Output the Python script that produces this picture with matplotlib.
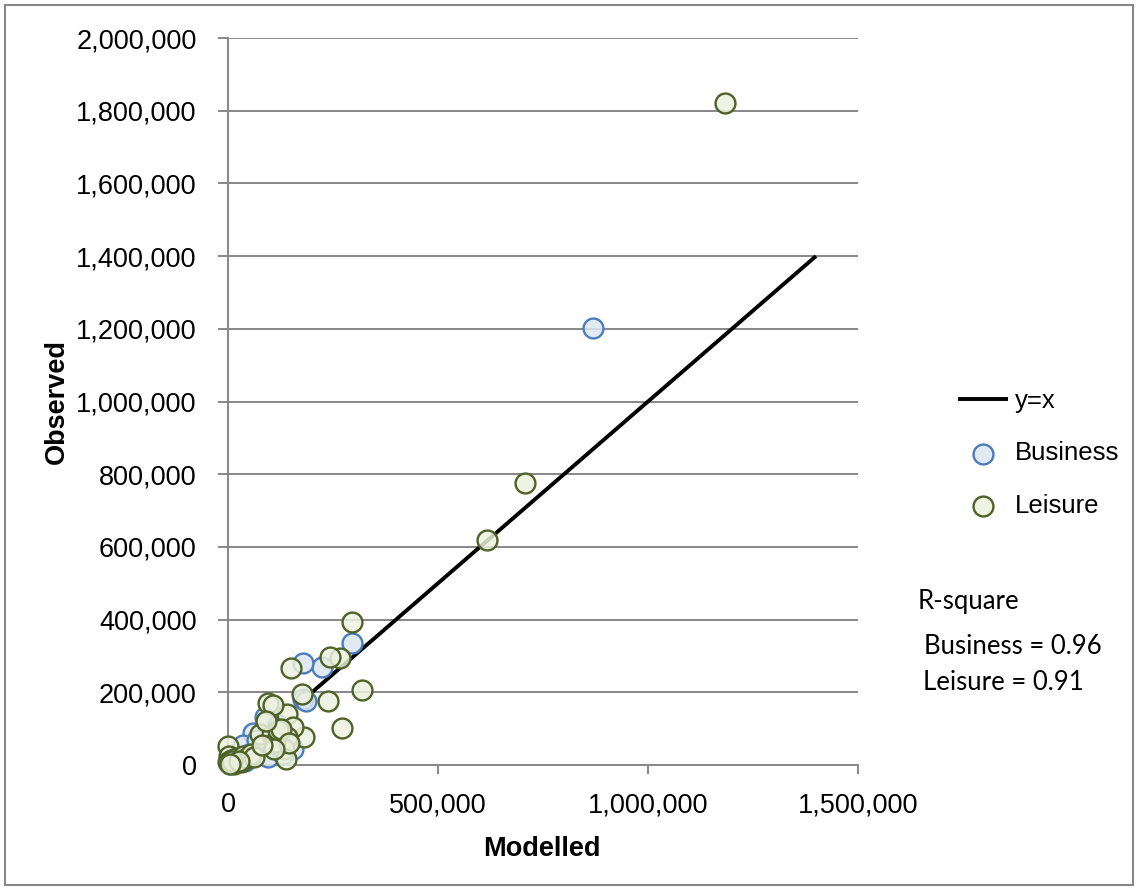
import numpy as np
import matplotlib
matplotlib.use("Agg")
import matplotlib.pyplot as plt
from matplotlib.ticker import FuncFormatter
from matplotlib.patches import Rectangle

# data (thousands, scaled below)
business_x = [869, 295, 224, 179, 178, 185, 88, 60, 95, 36, 155, 10, 20, 40, 120, 100, 130, 5, 50, 70]
business_y = [1203, 335, 270, 280, 182, 175, 132, 88, 22, 55, 45, 5, 15, 10, 110, 60, 30, 2, 30, 70]

leisure_x = [1183, 707, 617, 295, 267, 243, 150, 319, 238, 271, 176, 182, 140, 95, 107, 155, 76, 105,
             140, 133, 138, 112, 0, 3, 0, 8, 15, 20, 30, 35, 45, 55, 62, 10, 25, 5, 120, 125, 145, 90,
             110, 80]
leisure_y = [1820, 775, 618, 393, 294, 297, 267, 206, 176, 102, 195, 77, 140, 170, 165, 105, 85, 83,
             77, 44, 17, 63, 52, 25, 8, 15, 3, 20, 8, 25, 18, 30, 22, 10, 12, 3, 95, 100, 60, 120,
             45, 55]

line_x = [200, 1400]
line_y = [200, 1400]

r_square = {"Business": 0.96, "Leisure": 0.91}

bx = np.array(business_x) * 1000
by = np.array(business_y) * 1000
lx = np.array(leisure_x) * 1000
ly = np.array(leisure_y) * 1000

plt.rcParams['font.family'] = ['Liberation Sans', 'DejaVu Sans']

grey = '#878787'

fig = plt.figure(figsize=(11.38, 8.9), dpi=100)
ax = fig.add_axes([228 / 1138, 1 - 765 / 890, 630 / 1138, 727 / 890])

ax.plot(np.array(line_x) * 1000, np.array(line_y) * 1000, color='black', lw=2.8, zorder=2,
        solid_capstyle='butt', label='y=x')
ax.scatter(bx, by, s=205, facecolor=(0.863, 0.902, 0.949, 0.85), edgecolor='#4a7ebb',
           linewidth=1.7, zorder=3, clip_on=False, label='Business')
ax.scatter(lx, ly, s=205, facecolor=(0.922, 0.945, 0.871, 0.85), edgecolor='#4f6228',
           linewidth=1.7, zorder=4, clip_on=False, label='Leisure')

ax.set_xlim(0, 1500000)
ax.set_ylim(0, 2000000)
ax.set_xticks([0, 500000, 1000000, 1500000])
ax.set_yticks(np.arange(0, 2000001, 200000))
fmt = FuncFormatter(lambda v, p: f'{int(v):,}')
ax.xaxis.set_major_formatter(fmt)
ax.yaxis.set_major_formatter(fmt)

ax.grid(axis='y', color=grey, lw=1.4, zorder=0)
ax.set_axisbelow(True)
for s in ['top', 'right']:
    ax.spines[s].set_visible(False)
for s in ['left', 'bottom']:
    ax.spines[s].set_color(grey)
    ax.spines[s].set_linewidth(1.4)

ax.tick_params(axis='y', length=7.5, width=1.4, color=grey, pad=15, labelsize=19.5)
ax.tick_params(axis='x', length=6.5, width=1.4, color=grey, pad=13, labelsize=19.5)

ax.set_xlabel('Modelled', fontsize=19.5, fontweight='bold', va='center')
ax.xaxis.set_label_coords(0.498, -0.1155)
ax.set_ylabel('Observed', fontsize=19.5, fontweight='bold', va='center')
ax.yaxis.set_label_coords(-0.271, 0.5)

ax.legend(loc='upper left', bbox_to_anchor=(958 / 1138, 1 - 389 / 890),
          bbox_transform=fig.transFigure, frameon=False, fontsize=18.5,
          handlelength=1.95, handletextpad=0.27, borderpad=0, borderaxespad=0,
          labelspacing=1.1)

# R-square notes
fig.text(918 / 1138, 1 - 602 / 890, 'R-square', fontsize=18.5, family='Lato', va='center')
fig.text(924 / 1138, 1 - 647 / 890, f'Business = {r_square["Business"]:.2f}', fontsize=18.5,
         family='Lato', va='center')
fig.text(923 / 1138, 1 - 683 / 890, f'Leisure = {r_square["Leisure"]:.2f}', fontsize=18.5,
         family='Lato', va='center')

fig.patches.append(Rectangle((5 / 1138, 5 / 890), 1128 / 1138, 880 / 890, transform=fig.transFigure,
                             fill=False, edgecolor=grey, lw=1.5))

plt.savefig('out.png', dpi=100)
